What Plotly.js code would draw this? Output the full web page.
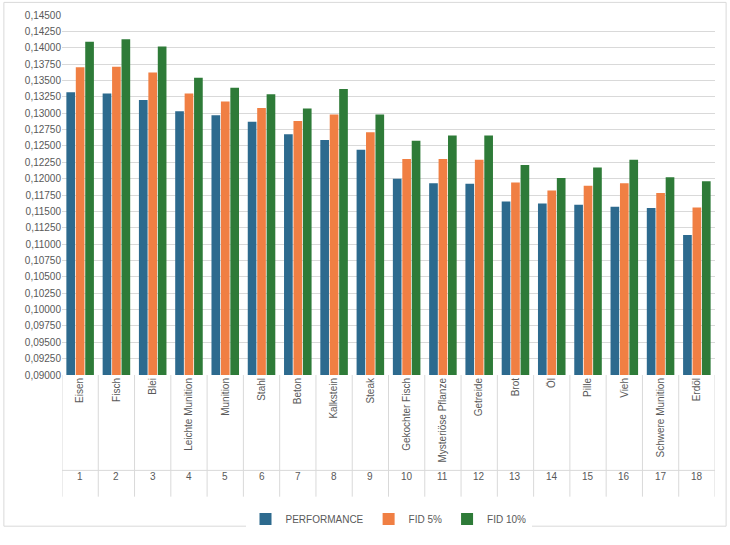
<html><head><meta charset="utf-8"><script src="https://cdn.plot.ly/plotly-3.0.1.min.js"></script></head><body style="margin:0">
<div id="c" style="width:730px;height:545px"></div>
<script>
const categories=["Eisen","Fisch","Blei","Leichte Munition","Munition","Stahl","Beton","Kalkstein","Steak","Gekochter Fisch","Mysteriöse Pflanze","Getreide","Brot","Öl","Pille","Vieh","Schwere Munition","Erdöl"];
const numbers=["1","2","3","4","5","6","7","8","9","10","11","12","13","14","15","16","17","18"];
const performance=[0.1332,0.1330,0.1320,0.1303,0.1297,0.1287,0.1268,0.1259,0.1244,0.1200,0.1193,0.1192,0.1165,0.1162,0.1160,0.1157,0.1155,0.1114];
const fid5=[0.1370,0.1371,0.1362,0.1330,0.1318,0.1308,0.1288,0.1298,0.1271,0.1230,0.1230,0.1229,0.1194,0.1182,0.1189,0.1193,0.1178,0.1156];
const fid10=[0.1409,0.1413,0.1402,0.1354,0.1339,0.1329,0.1307,0.1337,0.1298,0.1258,0.1266,0.1266,0.1221,0.1201,0.1217,0.1229,0.1202,0.1196];
const idx=categories.map((_,i)=>i);
const mk=(n,y,c)=>({type:'bar',name:n,x:idx,y:y,marker:{color:c}});
const shapes=[],ann=[];
for(let i=0;i<=categories.length;i++){shapes.push({type:'line',xref:'x',yref:'paper',x0:i-0.5,x1:i-0.5,y0:0,y1:-0.338,line:{color:'#d9d9d9',width:1}});}
shapes.push({type:'line',xref:'x',yref:'paper',x0:-0.5,x1:17.5,y0:-0.265,y1:-0.265,line:{color:'#d9d9d9',width:1}});
shapes.push({type:'rect',xref:'paper',yref:'paper',x0:-0.089,x1:1.017,y0:-0.42,y1:1.035,line:{color:'#d9d9d9',width:1}});
numbers.forEach((t,i)=>ann.push({xref:'x',yref:'paper',x:i,y:-0.303,text:t,showarrow:false,font:{size:10,color:'#595959'}}));
Plotly.newPlot('c',[mk('PERFORMANCE',performance,'#2d6a8e'),mk('FID 5%',fid5,'#f07f43'),mk('FID 10%',fid10,'#2e7b38')],{
width:730,height:545,paper_bgcolor:'#fff',plot_bgcolor:'#fff',
margin:{l:62,r:15,t:15,b:160},bargap:0.22,bargroupgap:0.08,
font:{family:'Liberation Sans, Arial',color:'#595959'},
xaxis:{tickmode:'array',tickvals:idx,ticktext:categories,tickangle:-90,tickfont:{size:10},range:[-0.5,17.5],showline:false,ticks:'',automargin:false},
yaxis:{range:[0.09,0.145],dtick:0.0025,tickformat:'.5f',gridcolor:'#d9d9d9',tickfont:{size:10},zeroline:false,automargin:false},
separators:', ',
legend:{orientation:'h',x:0.5,xanchor:'center',y:-0.36,yanchor:'top',font:{size:10},itemwidth:30},
shapes:shapes,annotations:ann},{displayModeBar:false});
</script></body></html>
